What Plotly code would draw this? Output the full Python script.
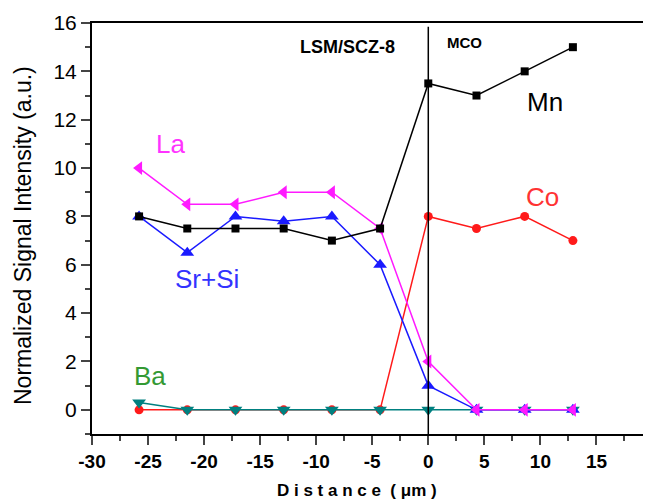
import plotly.graph_objects as go

distance = [-25.8, -21.5, -17.2, -12.9, -8.6, -4.3, 0.0, 4.3, 8.6, 12.9]
mn = [8.0, 7.5, 7.5, 7.5, 7.0, 7.5, 13.5, 13.0, 14.0, 15.0]
la = [10.0, 8.5, 8.5, 9.0, 9.0, 7.5, 2.0, 0.0, 0.0, 0.0]
sr_si = [8.0, 6.5, 8.0, 7.8, 8.0, 6.0, 1.0, 0.0, 0.0, 0.0]
co = [0.0, 0.0, 0.0, 0.0, 0.0, 0.0, 8.0, 7.5, 8.0, 7.0]
ba = [0.3, 0.0, 0.0, 0.0, 0.0, 0.0, 0.0, 0.0, 0.0, 0.0]

x_ticks = [-30, -25, -20, -15, -10, -5, 0, 5, 10, 15]
x_tick_labels = ["-30", "-25", "-20", "-15", "-10", "-5", "0", "5", "10", "15"]
y_ticks = [0, 2, 4, 6, 8, 10, 12, 14, 16]

FONT = "Liberation Sans, Arial, sans-serif"

fig = go.Figure()

def add(y, name, color, symbol, size=8):
    fig.add_trace(go.Scatter(
        x=distance, y=y, name=name, mode="lines+markers",
        line=dict(color=color, width=1.5),
        marker=dict(color=color, symbol=symbol, size=size, line=dict(width=0)),
        showlegend=False,
    ))

add(co, "Co", "#ff1a1a", "circle", 9)
add(ba, "Ba", "#008080", "triangle-down", 12)
add(sr_si, "Sr+Si", "#1a1aff", "triangle-up", 12)
add(la, "La", "#ff1aff", "triangle-left", 12)
add(mn, "Mn", "#000000", "square", 8)

fig.add_shape(type="line", x0=0, x1=0, y0=-1, y1=15.85, xref="x", yref="y",
              line=dict(color="black", width=1.5))

labels = [
    ("LSM/SCZ-8", -7.2, 15.0, "black", 18, True),
    ("MCO", 3.2, 15.2, "black", 15, True),
    ("Mn", 10.4, 12.75, "black", 26, False),
    ("La", -23.0, 11.0, "#ff33ff", 26, False),
    ("Co", 10.2, 8.8, "#ff3333", 26, False),
    ("Sr+Si", -19.7, 5.4, "#3333ff", 26, False),
    ("Ba", -24.8, 1.4, "#339933", 26, False),
]
for text, x, y, color, size, bold in labels:
    fig.add_annotation(x=x, y=y, xref="x", yref="y", showarrow=False,
                       text=f"<b>{text}</b>" if bold else text,
                       font=dict(family=FONT, size=size, color=color))

# figure sits inside the page's default 8px body margin
PLOT_W = 643 - 84 - 3
PLOT_H = 493 - 15 - 67
fig.add_annotation(x=(357 - 92) / PLOT_W, y=-(490 - 434) / PLOT_H, xref="paper", yref="paper",
                   showarrow=False, xanchor="center", yanchor="middle",
                   text="<b>D i s t a n c e  ( μm )</b>",
                   font=dict(family=FONT, size=17, color="black"))
fig.add_annotation(x=(23 - 92) / PLOT_W, y=(434 - 236) / PLOT_H, xref="paper", yref="paper",
                   showarrow=False, xanchor="center", yanchor="middle", textangle=-90,
                   text="Normalized Signal Intensity (a.u.)",
                   font=dict(family=FONT, size=23, color="black"))

fig.update_xaxes(range=[-30, 19.6], tickvals=x_ticks, ticktext=x_tick_labels,
                 ticks="outside", ticklen=9,
                 tickwidth=1.5, showline=True, linecolor="black", linewidth=2,
                 mirror=True, showgrid=False, zeroline=False, automargin=False,
                 minor=dict(ticks="outside", ticklen=5, tickwidth=1.5, dtick=2.5, tick0=0),
                 tickfont=dict(family=FONT, size=19, color="black", weight="bold"))
fig.update_yaxes(range=[-1, 16], tickvals=y_ticks, ticks="outside", ticklen=9,
                 tickwidth=1.5, showline=True, linecolor="black", linewidth=2,
                 mirror=True, showgrid=False, zeroline=False, automargin=False,
                 minor=dict(ticks="outside", ticklen=5, tickwidth=1.5, dtick=1, tick0=0),
                 tickfont=dict(family=FONT, size=21, color="black"))

fig.update_layout(width=643, height=493, plot_bgcolor="white", paper_bgcolor="white",
                  margin=dict(l=84, r=3, t=15, b=67))

fig.write_html("out.html")
